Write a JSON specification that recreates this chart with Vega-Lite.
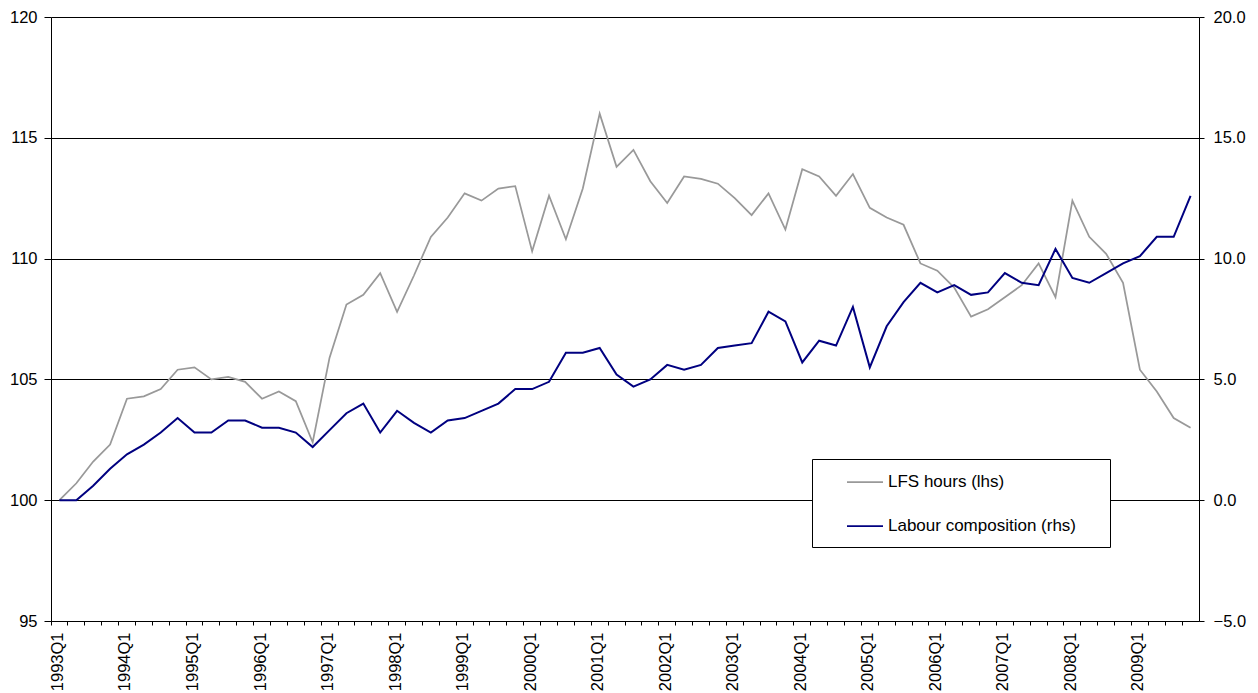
{
  "$schema": "https://vega.github.io/schema/vega-lite/v6.json",
  "width": 1148,
  "height": 604,
  "autosize": {"type": "none"},
  "padding": {"left": 51, "top": 17, "right": 59, "bottom": 72},
  "background": "white",
  "config": {
    "view": {"stroke": null},
    "font": "Liberation Sans",
    "axis": {"labelFont": "Liberation Sans", "labelFontSize": 16.5, "labelColor": "#000", "domainColor": "#000", "domainWidth": 1, "tickColor": "#000", "tickWidth": 1}
  },
  "data": {"values": [
    {"q":"1993Q1","lfs":100.0,"lab":0.0},{"q":"1993Q2","lfs":100.7,"lab":0.0},{"q":"1993Q3","lfs":101.6,"lab":0.6},{"q":"1993Q4","lfs":102.3,"lab":1.3},
    {"q":"1994Q1","lfs":104.2,"lab":1.9},{"q":"1994Q2","lfs":104.3,"lab":2.3},{"q":"1994Q3","lfs":104.6,"lab":2.8},{"q":"1994Q4","lfs":105.4,"lab":3.4},
    {"q":"1995Q1","lfs":105.5,"lab":2.8},{"q":"1995Q2","lfs":105.0,"lab":2.8},{"q":"1995Q3","lfs":105.1,"lab":3.3},{"q":"1995Q4","lfs":104.9,"lab":3.3},
    {"q":"1996Q1","lfs":104.2,"lab":3.0},{"q":"1996Q2","lfs":104.5,"lab":3.0},{"q":"1996Q3","lfs":104.1,"lab":2.8},{"q":"1996Q4","lfs":102.4,"lab":2.2},
    {"q":"1997Q1","lfs":105.9,"lab":2.9},{"q":"1997Q2","lfs":108.1,"lab":3.6},{"q":"1997Q3","lfs":108.5,"lab":4.0},{"q":"1997Q4","lfs":109.4,"lab":2.8},
    {"q":"1998Q1","lfs":107.8,"lab":3.7},{"q":"1998Q2","lfs":109.3,"lab":3.2},{"q":"1998Q3","lfs":110.9,"lab":2.8},{"q":"1998Q4","lfs":111.7,"lab":3.3},
    {"q":"1999Q1","lfs":112.7,"lab":3.4},{"q":"1999Q2","lfs":112.4,"lab":3.7},{"q":"1999Q3","lfs":112.9,"lab":4.0},{"q":"1999Q4","lfs":113.0,"lab":4.6},
    {"q":"2000Q1","lfs":110.3,"lab":4.6},{"q":"2000Q2","lfs":112.6,"lab":4.9},{"q":"2000Q3","lfs":110.8,"lab":6.1},{"q":"2000Q4","lfs":112.9,"lab":6.1},
    {"q":"2001Q1","lfs":116.0,"lab":6.3},{"q":"2001Q2","lfs":113.8,"lab":5.2},{"q":"2001Q3","lfs":114.5,"lab":4.7},{"q":"2001Q4","lfs":113.2,"lab":5.0},
    {"q":"2002Q1","lfs":112.3,"lab":5.6},{"q":"2002Q2","lfs":113.4,"lab":5.4},{"q":"2002Q3","lfs":113.3,"lab":5.6},{"q":"2002Q4","lfs":113.1,"lab":6.3},
    {"q":"2003Q1","lfs":112.5,"lab":6.4},{"q":"2003Q2","lfs":111.8,"lab":6.5},{"q":"2003Q3","lfs":112.7,"lab":7.8},{"q":"2003Q4","lfs":111.2,"lab":7.4},
    {"q":"2004Q1","lfs":113.7,"lab":5.7},{"q":"2004Q2","lfs":113.4,"lab":6.6},{"q":"2004Q3","lfs":112.6,"lab":6.4},{"q":"2004Q4","lfs":113.5,"lab":8.0},
    {"q":"2005Q1","lfs":112.1,"lab":5.5},{"q":"2005Q2","lfs":111.7,"lab":7.2},{"q":"2005Q3","lfs":111.4,"lab":8.2},{"q":"2005Q4","lfs":109.8,"lab":9.0},
    {"q":"2006Q1","lfs":109.5,"lab":8.6},{"q":"2006Q2","lfs":108.8,"lab":8.9},{"q":"2006Q3","lfs":107.6,"lab":8.5},{"q":"2006Q4","lfs":107.9,"lab":8.6},
    {"q":"2007Q1","lfs":108.4,"lab":9.4},{"q":"2007Q2","lfs":108.9,"lab":9.0},{"q":"2007Q3","lfs":109.8,"lab":8.9},{"q":"2007Q4","lfs":108.4,"lab":10.4},
    {"q":"2008Q1","lfs":112.4,"lab":9.2},{"q":"2008Q2","lfs":110.9,"lab":9.0},{"q":"2008Q3","lfs":110.2,"lab":9.4},{"q":"2008Q4","lfs":109.0,"lab":9.8},
    {"q":"2009Q1","lfs":105.4,"lab":10.1},{"q":"2009Q2","lfs":104.5,"lab":10.9},{"q":"2009Q3","lfs":103.4,"lab":10.9},{"q":"2009Q4","lfs":103.0,"lab":12.6}
  ]},
  "encoding": {
    "x": {
      "field": "q",
      "type": "ordinal",
      "bandPosition": 0.5,
      "scale": {"type": "band", "paddingInner": 0, "paddingOuter": 0},
      "axis": {
        "orient": "bottom",
        "title": null,
        "bandPosition": 0,
        "labelOffset": -1.5,
        "labelAngle": 270,
        "labelAlign": "right",
        "labelBaseline": "middle",
        "labelPadding": 7,
        "tickSize": 4,
        "grid": false,
        "labelOverlap": false,
        "labelBound": false,
        "labelExpr": "slice(datum.value, 4) == 'Q1' ? datum.value : ''",
        "encode": {"ticks": {"update": {"y": {"value": -4}}}}
      }
    }
  },
  "layer": [
    {
      "mark": {"type": "line", "strokeWidth": 1.75},
      "encoding": {
        "y": {
          "field": "lfs",
          "type": "quantitative",
          "scale": {"domain": [95, 120], "zero": false, "nice": false},
          "axis": {
            "orient": "left",
            "title": null,
            "values": [95, 100, 105, 110, 115, 120],
            "grid": true,
            "gridColor": "#000",
            "gridWidth": 1,
            "tickSize": 7,
            "labelPadding": 7,
            "encode": {"ticks": {"update": {"x": {"value": 4}}}}
          }
        },
        "color": {
          "datum": "LFS hours (lhs)",
          "type": "nominal",
          "scale": {"domain": ["LFS hours (lhs)", "Labour composition (rhs)"], "range": ["#999999", "#000080"]},
          "legend": {
            "orient": "none",
            "legendX": 761,
            "legendY": 442,
            "title": " ",
            "titleOrient": "right",
            "titlePadding": 21,
            "titleFontSize": 1,
            "symbolType": "M-2,0H2",
            "symbolSize": 324,
            "symbolStrokeWidth": 1.75,
            "symbolOffset": 30,
            "labelOffset": 13,
            "padding": 13,
            "rowPadding": 26,
            "strokeColor": "#000",
            "fillColor": "#fff",
            "labelFont": "Liberation Sans",
            "labelFontSize": 17,
            "labelColor": "#000",
            "labelLimit": 400
          }
        }
      }
    },
    {
      "mark": {"type": "line", "strokeWidth": 2},
      "encoding": {
        "y": {
          "field": "lab",
          "type": "quantitative",
          "scale": {"domain": [-5, 20], "zero": false, "nice": false},
          "axis": {
            "orient": "right",
            "title": null,
            "values": [-5, 0, 5, 10, 15, 20],
            "format": ".1f",
            "grid": false,
            "tickSize": 5,
            "labelPadding": 9,
            "encode": {"ticks": {"update": {"x": {"value": -5}}}}
          }
        },
        "color": {"datum": "Labour composition (rhs)", "type": "nominal"}
      }
    }
  ],
  "resolve": {"scale": {"y": "independent"}}
}
